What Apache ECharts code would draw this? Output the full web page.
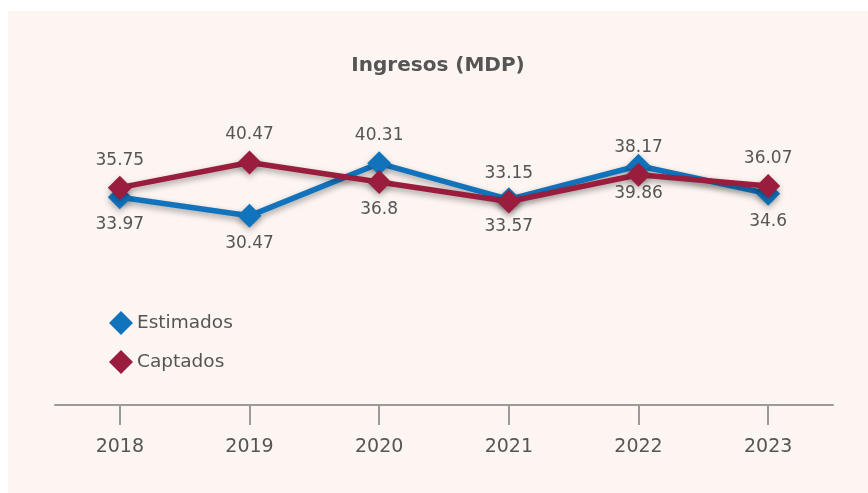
<!DOCTYPE html>
<html>
<head>
<meta charset="utf-8">
<script src="https://cdn.jsdelivr.net/npm/echarts@6/dist/echarts.min.js"></script>
<style>
html,body{margin:0;padding:0;background:#ffffff;}
#c{position:absolute;left:8px;top:11px;width:860px;height:482px;}
</style>
</head>
<body>
<div id="c"></div>
<script>
const titleText = 'Ingresos (MDP)';
const categories = ['2018', '2019', '2020', '2021', '2022', '2023'];
const estimados = [33.97, 30.47, 40.31, 33.57, 39.86, 34.6];
const captados = [35.75, 40.47, 36.8, 33.15, 38.17, 36.07];
const seriesNames = ['Estimados', 'Captados'];

const FONT = '"DejaVu Sans", "Noto Sans", sans-serif';
const TXT = '#555555';
const BLUE = '#1273bd';
const RED = '#9b1d3e';

function withLabels(arr, normalPos, swapIdx) {
  return arr.map((v, i) => ({
    value: v,
    label: { position: i === swapIdx ? (normalPos === 'top' ? 'bottom' : 'top') : normalPos }
  }));
}

const chart = echarts.init(document.getElementById('c'));
const lineStyleBase = { width: 5.5, shadowColor: 'rgba(0,0,0,0.35)', shadowBlur: 6, shadowOffsetY: 3 };
chart.setOption({
  backgroundColor: '#fdf5f2',
  animation: false,
  title: {
    text: titleText, left: 'center', top: 40,
    textStyle: { fontFamily: FONT, fontSize: 20, fontWeight: 'bold', color: TXT }
  },
  legend: {
    orient: 'vertical', left: 96, top: 295,
    itemWidth: 24, itemHeight: 24, itemGap: 15,
    icon: 'diamond',
    textStyle: { fontFamily: FONT, fontSize: 18.5, color: TXT, padding: [0, 0, 0, -1] },
    data: seriesNames
  },
  grid: { left: 47, right: 35, top: 74, bottom: 88 },
  xAxis: {
    type: 'category', data: categories, boundaryGap: true,
    axisLine: { onZero: false, lineStyle: { color: '#9a9a9a', width: 2 } },
    axisTick: { show: true, alignWithLabel: true, length: 20, lineStyle: { color: '#9a9a9a', width: 2 } },
    axisLabel: { margin: 33, fontFamily: FONT, fontSize: 19, color: TXT }
  },
  yAxis: {
    type: 'value', min: -5, max: 55, show: false, splitLine: { show: false }
  },
  series: [
    {
      name: seriesNames[0], type: 'line', data: withLabels(estimados, 'bottom', 2),
      symbol: 'diamond', symbolSize: 24, color: BLUE,
      lineStyle: Object.assign({ color: BLUE }, lineStyleBase),
      itemStyle: { color: BLUE, shadowColor: 'rgba(0,0,0,0.3)', shadowBlur: 6, shadowOffsetY: 3 },
      label: { show: true, fontFamily: FONT, fontSize: 17, color: TXT, distance: 7 },
      z: 2
    },
    {
      name: seriesNames[1], type: 'line', data: withLabels(captados, 'top', 2),
      symbol: 'diamond', symbolSize: 24, color: RED,
      lineStyle: Object.assign({ color: RED }, lineStyleBase),
      itemStyle: { color: RED, shadowColor: 'rgba(0,0,0,0.3)', shadowBlur: 6, shadowOffsetY: 3 },
      label: { show: true, fontFamily: FONT, fontSize: 17, color: TXT, distance: 7 },
      z: 3
    }
  ]
});
</script>
</body>
</html>
